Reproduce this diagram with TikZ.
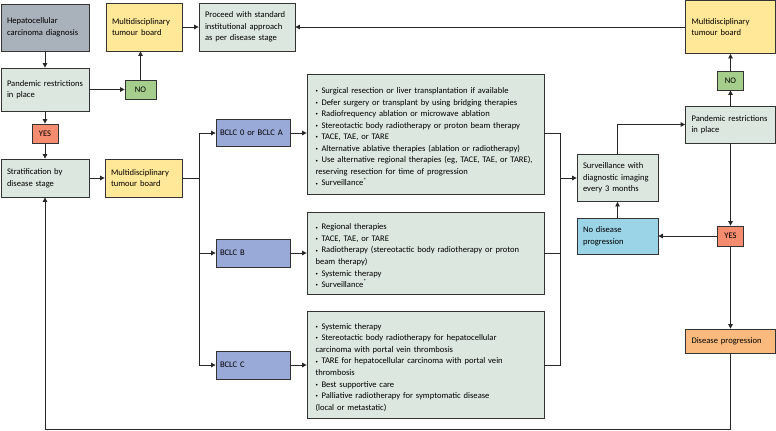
\documentclass[tikz,border=0pt]{standalone}
\usepackage{fontspec}
\setmainfont{Carlito}
\usepackage{tikz}
\usetikzlibrary{arrows.meta, positioning}
\definecolor{hccgrey}{HTML}{A9B1BA}
\definecolor{mdtyellow}{HTML}{FFE898}
\definecolor{stagemint}{HTML}{DCE8DF}
\definecolor{nogreen}{HTML}{A5CE8D}
\definecolor{yessalmon}{HTML}{F58C6F}
\definecolor{bclcblue}{HTML}{9AAAD8}
\definecolor{stableblue}{HTML}{9BD3E7}
\definecolor{progorange}{HTML}{FBBA7D}
\newcommand{\bitem}{\par\hangindent=6bp\hangafter=1\noindent\makebox[6bp][l]{\raisebox{0.2ex}{\scalebox{0.55}{\textbullet}}}}

\begin{document}
\begin{tikzpicture}[
    x=1bp, y=-1bp,
    font=\fontsize{8.6}{11.6}\selectfont,
    box/.style={draw=black!80, line width=0.8bp, inner xsep=6bp, inner ysep=2bp, align=left},
    hccbox/.style={box, fill=hccgrey},
    mdtbox/.style={box, fill=mdtyellow},
    mintbox/.style={box, fill=stagemint},
    nobox/.style={box, fill=nogreen, inner xsep=0pt, align=center},
    yesbox/.style={box, fill=yessalmon, inner xsep=0pt, align=center},
    bclcbox/.style={box, fill=bclcblue, inner xsep=4bp, text width=66bp},
    optbox/.style={box, fill=stagemint, inner xsep=8.5bp, text width=220bp},
    stablebox/.style={box, fill=stableblue},
    progbox/.style={box, fill=progorange},
    flow/.style={-{Triangle[length=4.5bp, width=4.5bp]}, line width=0.8bp, color=black!85},
    link/.style={line width=0.8bp, color=black!85}
]
\useasboundingbox (0,0) rectangle (776,430);

% =====================================================
% FIRST ASSESSMENT (LEFT COLUMN)
% =====================================================
\node[hccbox, text width=76bp, minimum height=47bp] (hcc) at (45,27.5) {Hepatocellular\\carcinoma diagnosis};
\node[mintbox, text width=76bp, minimum height=43bp] (pandA) at (45,89.5) {Pandemic restrictions\\in place};
\node[nobox, minimum width=31bp, minimum height=19bp] (noA) at (140.5,89.5) {NO};
\node[yesbox, minimum width=26bp, minimum height=19bp] (yesA) at (45,133.5) {YES};
\node[mintbox, text width=76bp, minimum height=38bp] (strat) at (45,178) {Stratification by\\disease stage};

% Tumour boards and standard approach (top row)
\node[mdtbox, text width=64bp, minimum height=48bp] (mdtA) at (144,27) {Multidisciplinary\\tumour board};
\node[mintbox, text width=84bp, minimum height=48bp] (proceed) at (247,27) {Proceed with standard\\institutional approach\\as per disease stage};
\node[mdtbox, text width=78bp, minimum height=53bp] (mdtB) at (730.5,27) {Multidisciplinary\\tumour board};

% =====================================================
% STAGING AND TREATMENT OPTIONS (CENTRE)
% =====================================================
\node[mdtbox, text width=65bp, minimum height=38bp] (mdtC) at (143.5,178) {Multidisciplinary\\tumour board};

\node[bclcbox, minimum height=27bp] (bclcA) at (253,133) {BCLC 0 or BCLC A};
\node[bclcbox, minimum height=28bp] (bclcB) at (253,253) {BCLC B};
\node[bclcbox, minimum height=28bp] (bclcC) at (253,365) {BCLC C};

\node[optbox, minimum height=120bp] (optA) at (425.5,134) {%
    \bitem Surgical resection or liver transplantation if available
    \bitem Defer surgery or transplant by using bridging therapies
    \bitem Radiofrequency ablation or microwave ablation
    \bitem Stereotactic body radiotherapy or proton beam therapy
    \bitem TACE, TAE, or TARE
    \bitem Alternative ablative therapies (ablation or radiotherapy)
    \bitem Use alternative regional therapies (eg, TACE, TAE, or TARE),\\reserving resection for time of progression
    \bitem Surveillance\textsuperscript{*}};
\node[optbox, minimum height=82bp] (optB) at (425.5,253) {%
    \bitem Regional therapies
    \bitem TACE, TAE, or TARE
    \bitem Radiotherapy (stereotactic body radiotherapy or proton\\beam therapy)
    \bitem Systemic therapy
    \bitem Surveillance\textsuperscript{*}};
\node[optbox, minimum height=107bp] (optC) at (425.5,364.5) {%
    \bitem Systemic therapy
    \bitem Stereotactic body radiotherapy for hepatocellular\\carcinoma with portal vein thrombosis
    \bitem TARE for hepatocellular carcinoma with portal vein\\thrombosis
    \bitem Best supportive care
    \bitem Palliative radiotherapy for symptomatic disease\\(local or metastatic)};

% =====================================================
% FOLLOW-UP (RIGHT COLUMN)
% =====================================================
\node[mintbox, text width=69bp, minimum height=47bp] (surv) at (617.5,178) {Surveillance with\\diagnostic imaging\\every 3 months};
\node[stablebox, text width=69bp, minimum height=36bp] (stable) at (617.5,236) {No disease\\progression};
\node[mintbox, text width=78bp, minimum height=37bp] (pandB) at (730.5,124.5) {Pandemic restrictions\\in place};
\node[nobox, minimum width=26bp, minimum height=19bp] (noB) at (730.5,80.5) {NO};
\node[yesbox, minimum width=26bp, minimum height=20bp] (yesB) at (730.5,236) {YES};
\node[progbox, text width=78bp, minimum height=24bp] (prog) at (730.5,341) {Disease progression};

% Branch and join points
\coordinate (split) at (199,178);
\coordinate (join) at (560,178);
\coordinate (loopcorner) at (45,429);

% Left column flows
\draw[flow] (hcc) -- (pandA);
\draw[flow] (pandA) -- (noA);
\draw[flow] (noA.north) -- (noA.north |- mdtA.south);
\draw[flow] (mdtA) -- (proceed);
\draw[flow] (pandA) -- (yesA);
\draw[flow] (yesA) -- (strat);
\draw[flow] (strat) -- (mdtC);

% Staging branches
\draw[link] (mdtC.east) -- (split);
\draw[flow] (split) |- (bclcA.west);
\draw[flow] (split) |- (bclcB.west);
\draw[flow] (split) |- (bclcC.west);
\draw[flow] (bclcA) -- (bclcA -| optA.west);
\draw[flow] (bclcB) -- (bclcB -| optB.west);
\draw[flow] (bclcC) -- (bclcC -| optC.west);

% Options join into surveillance
\draw[link] (bclcA -| optA.east) -| (join);
\draw[link] (bclcB -| optB.east) -- (bclcB -| join);
\draw[link] (bclcC -| optC.east) -| (join);
\draw[flow] (join) -- (surv.west);

% Right column flows
\draw[flow] (surv.north) |- (pandB.west);
\draw[flow] (pandB) -- (noB);
\draw[flow] (noB) -- (mdtB);
\draw[flow] (mdtB.west |- proceed) -- (proceed.east);
\draw[flow] (pandB) -- (yesB);
\draw[flow] (yesB) -- (stable);
\draw[flow] (stable) -- (surv);
\draw[flow] (yesB) -- (prog);

% Progression loops back to staging
\draw[flow] (prog.south) |- (loopcorner) -- (strat.south);

\end{tikzpicture}
\end{document}
